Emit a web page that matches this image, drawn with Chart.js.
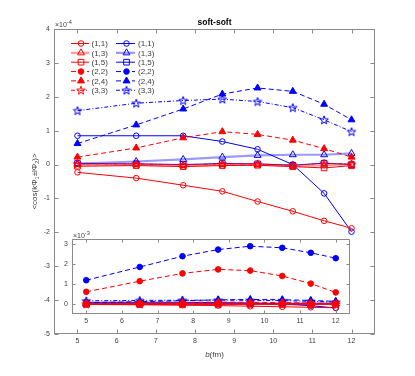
<!DOCTYPE html>
<html><head><meta charset="utf-8">
<script src="https://cdn.jsdelivr.net/npm/chart.js@4.4.1/dist/chart.umd.min.js"></script>
<style>
html,body{margin:0;padding:0;background:#fff;}
#wrap{position:relative;width:415px;height:376px;overflow:hidden;}
#main{position:absolute;left:0;top:0;}
#inset{position:absolute;left:40px;top:228px;}
</style></head><body>
<div id="wrap"><canvas id="main" width="415" height="376"></canvas><canvas id="inset" width="330" height="110"></canvas></div>
<script>
// ---------------- data (values in units of 1e-4) ----------------
const B_FM = [5.0, 6.5, 7.7, 8.7, 9.6, 10.5, 11.3, 12.0];

const RED_11 = [-0.23, -0.40, -0.61, -0.79, -1.09, -1.38, -1.66, -1.88];
const RED_13 = [0.00, 0.00, -0.03, 0.00, 0.00, -0.05, -0.02, 0.01];
const RED_15 = [-0.05, -0.03, -0.06, -0.03, -0.02, -0.06, -0.10, -0.03];
const RED_22 = [6.1, 11.4, 15.3, 17.3, 16.7, 14.0, 10.2, 5.8];
const RED_24 = [0.22, 0.49, 0.79, 0.97, 0.89, 0.72, 0.47, 0.22];
const RED_33 = [0.02, 0.02, -0.01, 0.02, 0.02, -0.02, 0.04, 0.01];

const BLUE_11 = [0.85, 0.85, 0.85, 0.68, 0.45, 0.00, -0.85, -1.98];
const BLUE_13 = [0.03, 0.09, 0.15, 0.22, 0.27, 0.29, 0.29, 0.33];
const BLUE_15 = [0.03, 0.02, 0.00, 0.03, 0.02, -0.02, 0.04, 0.00];
const BLUE_22 = [11.9, 18.5, 23.9, 27.2, 28.9, 28.1, 25.6, 22.9];
const BLUE_24 = [0.62, 1.17, 1.64, 2.08, 2.26, 2.16, 1.78, 1.32];
const BLUE_33 = [1.59, 1.81, 1.89, 1.93, 1.86, 1.68, 1.32, 0.97];

const MAIN_X_TICKS = [5, 6, 7, 8, 9, 10, 11, 12];
const MAIN_Y_TICKS = [-5, -4, -3, -2, -1, 0, 1, 2, 3, 4];
const INSET_X_TICKS = [5, 6, 7, 8, 9, 10, 11, 12];
const INSET_Y_TICKS = [0, 1, 2, 3];
const LEGEND_KEYS = ['(1,1)', '(1,3)', '(1,5)', '(2,2)', '(2,4)', '(3,3)'];
const TITLE = 'soft-soft';

// ---------------- styles ----------------
const RED = '#ff0000', BLUE = '#0000ff';
const FONT = '"Liberation Sans", Arial, Helvetica, sans-serif';
const AXIS_COLOR = '#8a8a8a';
const TICK_TEXT = '#404040';
const STYLE = {
  '(1,1)': {marker: 'circle', filled: false, dash: [], width: 1, alpha: 1},
  '(1,3)': {marker: 'triangle', filled: false, dash: [], width: 2.2, alpha: 0.4},
  '(1,5)': {marker: 'rect', filled: false, dash: [], width: 1, alpha: 1},
  '(2,2)': {marker: 'circle', filled: true, dash: [5, 3], width: 1, alpha: 1},
  '(2,4)': {marker: 'triangle', filled: true, dash: [5, 3], width: 1, alpha: 1},
  '(3,3)': {marker: 'star', filled: false, dash: [4, 2, 1, 2], width: 1, alpha: 1}
};
const RADIUS = {circle: 2.8, triangle: 4, rect: 4, star: 4.5};

function rgba(hex, a) {
  const r = parseInt(hex.slice(1, 3), 16), g = parseInt(hex.slice(3, 5), 16), b = parseInt(hex.slice(5, 7), 16);
  return `rgba(${r},${g},${b},${a})`;
}
function starCanvas(color, r) {
  const size = 12;
  const c = document.createElement('canvas'); c.width = c.height = size;
  const g = c.getContext('2d');
  const cx = size / 2, cy = size / 2 + 0.4, ri = r * 0.4;
  g.beginPath();
  for (let i = 0; i < 10; i++) {
    const a = -Math.PI / 2 + i * Math.PI / 5, rr = i % 2 ? ri : r;
    g.lineTo(cx + rr * Math.cos(a), cy + rr * Math.sin(a));
  }
  g.closePath(); g.strokeStyle = color; g.lineWidth = 1; g.stroke();
  return c;
}
const STAR = {[RED]: starCanvas(RED, RADIUS.star), [BLUE]: starCanvas(BLUE, RADIUS.star)};

const SERIES = [
  {color: RED, key: '(1,1)', values: RED_11},
  {color: RED, key: '(1,3)', values: RED_13},
  {color: RED, key: '(1,5)', values: RED_15},
  {color: RED, key: '(2,2)', values: RED_22},
  {color: RED, key: '(2,4)', values: RED_24},
  {color: RED, key: '(3,3)', values: RED_33},
  {color: BLUE, key: '(1,1)', values: BLUE_11},
  {color: BLUE, key: '(1,3)', values: BLUE_13},
  {color: BLUE, key: '(1,5)', values: BLUE_15},
  {color: BLUE, key: '(2,2)', values: BLUE_22},
  {color: BLUE, key: '(2,4)', values: BLUE_24},
  {color: BLUE, key: '(3,3)', values: BLUE_33}
];

function makeDataset(s, factor) {
  const st = STYLE[s.key];
  return {
    label: s.key,
    data: B_FM.map((b, i) => ({x: b, y: s.values[i] * factor})),
    borderColor: st.alpha < 1 ? rgba(s.color, st.alpha) : s.color,
    borderWidth: st.width,
    borderDash: st.dash,
    pointStyle: st.marker === 'star' ? STAR[s.color] : st.marker,
    pointRadius: RADIUS[st.marker],
    pointBorderColor: s.color,
    pointBackgroundColor: st.filled ? s.color : 'rgba(0,0,0,0)',
    pointBorderWidth: 1,
    tension: 0,
    fill: false
  };
}

function drawMarker(ctx, marker, filled, color, x, y) {
  ctx.save();
  ctx.setLineDash([]);
  ctx.strokeStyle = color; ctx.fillStyle = color; ctx.lineWidth = 1;
  const r = RADIUS[marker];
  if (marker === 'star') { const c = STAR[color]; ctx.drawImage(c, x - c.width / 2, y - c.height / 2); ctx.restore(); return; }
  ctx.beginPath();
  if (marker === 'circle') ctx.arc(x, y, r, 0, Math.PI * 2);
  else if (marker === 'rect') { const h = r * Math.SQRT1_2; ctx.rect(x - h, y - h, 2 * h, 2 * h); }
  else if (marker === 'triangle') {
    for (let i = 0; i < 3; i++) { const a = -Math.PI / 2 + i * 2 * Math.PI / 3; ctx.lineTo(x + r * Math.cos(a), y + r * Math.sin(a)); }
    ctx.closePath();
  }
  if (filled) ctx.fill();
  ctx.stroke();
  ctx.restore();
}

function drawSci(ctx, x, y, exp, size) {
  ctx.fillStyle = TICK_TEXT; ctx.textBaseline = 'alphabetic'; ctx.textAlign = 'left';
  ctx.font = `${size}px ${FONT}`;
  ctx.fillText('\u00d710', x, y);
  const w = ctx.measureText('\u00d710').width;
  ctx.font = `${size * 0.8}px ${FONT}`;
  ctx.fillText(exp, x + w, y - 3);
}

function axesBoxPlugin(opts) {
  return {
    id: 'axesBox' + opts.name,
    beforeDraw(chart) {
      if (!opts.whiteBg) return;
      const a = chart.chartArea, ctx = chart.ctx;
      ctx.save(); ctx.fillStyle = '#ffffff';
      ctx.fillRect(a.left, a.top, a.right - a.left, a.bottom - a.top);
      ctx.restore();
    },
    afterDraw(chart) {
      const {ctx, chartArea: a, scales: {x, y}} = chart;
      ctx.save();
      ctx.strokeStyle = AXIS_COLOR; ctx.lineWidth = 1; ctx.setLineDash([]);
      const L = Math.round(a.left) + 0.5, R = Math.round(a.right) - 0.5;
      const T = Math.round(a.top) + 0.5, Bt = Math.round(a.bottom) - 0.5;
      ctx.strokeRect(L, T, R - L, Bt - T);
      ctx.beginPath();
      x.ticks.forEach(t => {
        const px = Math.round(x.getPixelForValue(t.value)) + 0.5;
        ctx.moveTo(px, Bt); ctx.lineTo(px, Bt - opts.tick);
        ctx.moveTo(px, T); ctx.lineTo(px, T + opts.tick);
      });
      y.ticks.forEach(t => {
        const py = Math.round(y.getPixelForValue(t.value)) + 0.5;
        ctx.moveTo(L, py); ctx.lineTo(L + opts.tick, py);
        ctx.moveTo(R, py); ctx.lineTo(R - opts.tick, py);
      });
      ctx.stroke();
      if (opts.extra) opts.extra(ctx, chart);
      ctx.restore();
    }
  };
}

function scaleOpts(min, max, ticks, fitSize, horizontal, pad) {
  return {
    type: 'linear', min, max,
    afterBuildTicks: s => { s.ticks = ticks.map(v => ({value: v})); },
    afterFit: s => { if (horizontal) s.height = fitSize; else s.width = fitSize; },
    grid: {display: false, drawTicks: false},
    border: {display: false},
    ticks: {font: {size: 7, family: FONT}, color: TICK_TEXT, padding: pad, maxRotation: 0, autoSkip: false}
  };
}

function mainExtra(ctx, chart) {
  const a = chart.chartArea;
  // title
  ctx.fillStyle = '#000'; ctx.textAlign = 'center'; ctx.textBaseline = 'alphabetic';
  ctx.font = `bold 8.5px ${FONT}`;
  ctx.fillText(TITLE, (a.left + a.right) / 2, 24.5);
  // exponent
  drawSci(ctx, 55, 27, '-4', 7);
  // x label
  ctx.fillStyle = TICK_TEXT;
  ctx.font = `italic 8px ${FONT}`;
  const wb = ctx.measureText('b').width;
  ctx.font = `8px ${FONT}`;
  const wr = ctx.measureText('(fm)').width;
  const xs = (a.left + a.right) / 2 - (wb + wr) / 2;
  ctx.textAlign = 'left';
  ctx.font = `italic 8px ${FONT}`; ctx.fillText('b', xs, 357);
  ctx.font = `8px ${FONT}`; ctx.fillText('(fm)', xs + wb, 357);
  // y label
  ctx.save();
  ctx.translate(37, (a.top + a.bottom) / 2);
  ctx.rotate(-Math.PI / 2);
  const parts = [['<cos(k\u03a6', 0], ['1', 1], ['\u00b1l\u03a6', 0], ['2', 1], [')>', 0]];
  let tot = 0;
  parts.forEach(p => { ctx.font = p[1] ? `5.5px ${FONT}` : `8px ${FONT}`; p.w = ctx.measureText(p[0]).width; tot += p.w; });
  let cx = -tot / 2;
  ctx.textAlign = 'left';
  parts.forEach(p => { ctx.font = p[1] ? `5.5px ${FONT}` : `8px ${FONT}`; ctx.fillText(p[0], cx, p[1] ? 2 : 0); cx += p.w; });
  ctx.restore();
  // legend
  const cols = [{color: RED, x0: 71, x1: 89, tx: 91.5}, {color: BLUE, x0: 116, x1: 135, tx: 138}];
  ctx.font = `8px ${FONT}`; ctx.textBaseline = 'middle'; ctx.textAlign = 'left';
  LEGEND_KEYS.forEach((k, i) => {
    const st = STYLE[k];
    const yy = 43.5 + i * 9.35;
    cols.forEach(c => {
      ctx.save();
      ctx.strokeStyle = st.alpha < 1 ? rgba(c.color, st.alpha) : c.color;
      ctx.lineWidth = st.width; ctx.setLineDash(st.dash);
      ctx.beginPath(); ctx.moveTo(c.x0, yy); ctx.lineTo(c.x1, yy); ctx.stroke();
      ctx.restore();
      drawMarker(ctx, st.marker, st.filled, c.color, (c.x0 + c.x1) / 2 + 1, yy);
      ctx.fillStyle = TICK_TEXT;
      ctx.fillText(k, c.tx, yy + 0.5);
    });
  });
}

function insetExtra(ctx, chart) {
  drawSci(ctx, 33, 9.5, '-3', 7);
}

// ---------------- main chart ----------------
new Chart(document.getElementById('main'), {
  type: 'line',
  data: {datasets: SERIES.filter(s => s.key !== '(2,2)').map(s => makeDataset(s, 1))},
  options: {
    responsive: false, animation: false, devicePixelRatio: 1,
    layout: {padding: {left: 0, top: 29, right: 40, bottom: 0}},
    plugins: {legend: {display: false}, tooltip: {enabled: false}, title: {display: false}},
    scales: {
      x: scaleOpts(4.4, 12.6, MAIN_X_TICKS, 42, true, 3),
      y: scaleOpts(-5, 4, MAIN_Y_TICKS, 54, false, 4)
    }
  },
  plugins: [axesBoxPlugin({name: 'main', tick: 4, whiteBg: false, extra: mainExtra})]
});

// ---------------- inset chart (units of 1e-3) ----------------
new Chart(document.getElementById('inset'), {
  type: 'line',
  data: {datasets: SERIES.map(s => makeDataset(s, 0.1))},
  options: {
    responsive: false, animation: false, devicePixelRatio: 1,
    layout: {padding: {left: 0, top: 11, right: 20, bottom: 0}},
    plugins: {legend: {display: false}, tooltip: {enabled: false}, title: {display: false}},
    scales: {
      x: scaleOpts(4.6, 12.4, INSET_X_TICKS, 24, true, 3),
      y: scaleOpts(-0.5, 3.25, INSET_Y_TICKS, 32, false, 4)
    }
  },
  plugins: [axesBoxPlugin({name: 'inset', tick: 3, whiteBg: true, extra: insetExtra})]
});
</script>
</body></html>
